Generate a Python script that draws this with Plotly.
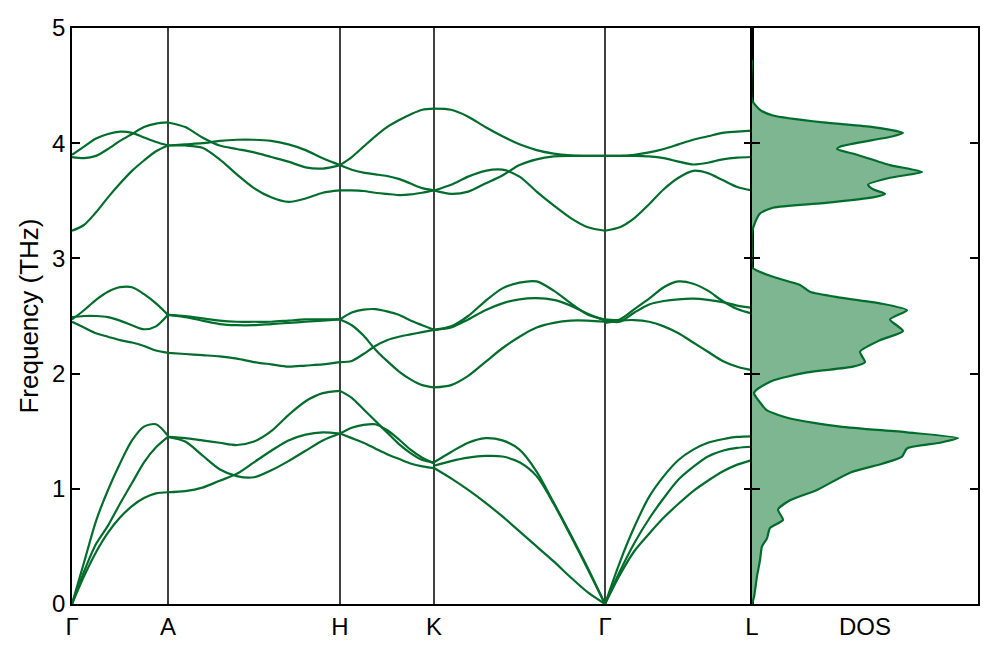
import numpy as np
import plotly.graph_objects as go

# ---------------- data ----------------
kpoint_labels = ["Γ", "A", "H", "K", "Γ", "L"]
kpoint_pos = [0.0, 0.96, 2.68, 3.62, 5.33, 6.80]   # path distance

# Segment Γ-A (9 k-samples)
seg_GA = [
    [3.90, 3.97, 4.04, 4.08, 4.10, 4.09, 4.05, 4.01, 3.98],
    [3.88, 3.87, 3.89, 3.95, 4.02, 4.08, 4.14, 4.17, 4.18],
    [3.24, 3.29, 3.40, 3.53, 3.65, 3.76, 3.85, 3.93, 3.98],
    [2.47, 2.55, 2.64, 2.71, 2.75, 2.75, 2.69, 2.61, 2.51],
    [2.49, 2.50, 2.50, 2.49, 2.46, 2.42, 2.385, 2.41, 2.51],
    [2.45, 2.40, 2.35, 2.32, 2.29, 2.27, 2.24, 2.20, 2.18],
    [0.00, 0.36, 0.72, 0.99, 1.22, 1.42, 1.54, 1.56, 1.46],
    [0.00, 0.28, 0.52, 0.68, 0.87, 1.05, 1.23, 1.36, 1.45],
    [0.00, 0.24, 0.45, 0.62, 0.75, 0.85, 0.92, 0.96, 0.97],
]

# Segment A-H (11 k-samples)
seg_AH = [
    [4.18, 4.14, 4.05, 3.98, 3.95, 3.92, 3.88, 3.84, 3.79, 3.78, 3.81],
    [3.98, 3.99, 4.00, 4.02, 4.03, 4.03, 4.02, 3.99, 3.94, 3.87, 3.81],
    [3.98, 3.98, 3.96, 3.86, 3.73, 3.61, 3.53, 3.49, 3.52, 3.57, 3.59],
    [2.51, 2.50, 2.48, 2.46, 2.45, 2.45, 2.45, 2.46, 2.47, 2.47, 2.47],
    [2.51, 2.49, 2.46, 2.43, 2.42, 2.42, 2.43, 2.44, 2.45, 2.46, 2.47],
    [2.18, 2.17, 2.16, 2.15, 2.13, 2.10, 2.08, 2.06, 2.07, 2.08, 2.10],
    [1.45, 1.44, 1.42, 1.40, 1.38, 1.41, 1.50, 1.64, 1.76, 1.83, 1.85],
    [1.45, 1.41, 1.29, 1.17, 1.11, 1.10, 1.16, 1.24, 1.33, 1.42, 1.48],
    [0.97, 0.98, 1.01, 1.07, 1.13, 1.23, 1.33, 1.42, 1.47, 1.49, 1.48],
]

# Segment H-K (9 k-samples)
seg_HK = [
    [3.81, 3.88, 3.97, 4.06, 4.14, 4.20, 4.25, 4.29, 4.30],
    [3.81, 3.77, 3.745, 3.73, 3.715, 3.69, 3.65, 3.61, 3.59],
    [3.59, 3.59, 3.585, 3.57, 3.56, 3.55, 3.555, 3.57, 3.59],
    [2.47, 2.53, 2.555, 2.56, 2.54, 2.51, 2.46, 2.42, 2.38],
    [2.47, 2.42, 2.33, 2.21, 2.11, 2.02, 1.95, 1.90, 1.88],
    [2.10, 2.11, 2.17, 2.24, 2.29, 2.32, 2.34, 2.36, 2.38],
    [1.85, 1.79, 1.69, 1.59, 1.49, 1.39, 1.31, 1.25, 1.23],
    [1.48, 1.53, 1.555, 1.56, 1.51, 1.43, 1.34, 1.27, 1.22],
    [1.48, 1.44, 1.40, 1.35, 1.30, 1.26, 1.22, 1.195, 1.18],
]

# Segment K-Γ (11 k-samples)
seg_KG = [
    [4.30, 4.29, 4.23, 4.14, 4.06, 3.99, 3.94, 3.91, 3.895, 3.89, 3.89],
    [3.59, 3.64, 3.71, 3.76, 3.77, 3.71, 3.58, 3.46, 3.35, 3.27, 3.24],
    [3.59, 3.56, 3.58, 3.65, 3.72, 3.81, 3.86, 3.885, 3.89, 3.89, 3.89],
    [2.38, 2.41, 2.50, 2.63, 2.74, 2.79, 2.80, 2.72, 2.61, 2.51, 2.47],
    [2.38, 2.40, 2.47, 2.55, 2.61, 2.645, 2.655, 2.64, 2.59, 2.52, 2.46],
    [1.88, 1.90, 1.98, 2.10, 2.22, 2.32, 2.40, 2.44, 2.46, 2.46, 2.45],
    [1.23, 1.32, 1.40, 1.44, 1.42, 1.34, 1.15, 0.88, 0.60, 0.31, 0.00],
    [1.20, 1.24, 1.27, 1.285, 1.28, 1.23, 1.11, 0.87, 0.59, 0.30, 0.00],
    [1.18, 1.09, 0.99, 0.88, 0.76, 0.63, 0.50, 0.37, 0.23, 0.10, 0.00],
]

# Segment Γ-L (11 k-samples)
seg_GL = [
    [3.89, 3.89, 3.90, 3.92, 3.95, 3.99, 4.03, 4.06, 4.09, 4.10, 4.11],
    [3.89, 3.89, 3.89, 3.885, 3.87, 3.84, 3.815, 3.83, 3.86, 3.875, 3.88],
    [3.24, 3.27, 3.35, 3.47, 3.60, 3.70, 3.76, 3.74, 3.68, 3.62, 3.59],
    [2.47, 2.47, 2.56, 2.65, 2.75, 2.80, 2.78, 2.72, 2.63, 2.56, 2.52],
    [2.46, 2.45, 2.53, 2.60, 2.63, 2.645, 2.65, 2.64, 2.62, 2.59, 2.57],
    [2.44, 2.46, 2.465, 2.45, 2.41, 2.35, 2.27, 2.19, 2.11, 2.06, 2.03],
    [0.00, 0.36, 0.67, 0.93, 1.11, 1.25, 1.34, 1.40, 1.43, 1.45, 1.455],
    [0.00, 0.28, 0.53, 0.74, 0.92, 1.08, 1.19, 1.28, 1.33, 1.355, 1.365],
    [0.00, 0.25, 0.46, 0.61, 0.75, 0.87, 0.98, 1.07, 1.15, 1.21, 1.25],
]

# Phonon density of states
dos_freq = [0.00, 0.06, 0.24, 0.38, 0.50, 0.57, 0.66, 0.73, 0.82, 0.90, 0.99,
            1.14, 1.22, 1.28, 1.35, 1.40, 1.44, 1.49, 1.54, 1.61, 1.68, 1.75,
            1.83, 1.87, 1.94, 2.01, 2.06, 2.10, 2.19, 2.29, 2.37, 2.47, 2.55,
            2.61, 2.66, 2.71, 2.77, 2.84, 2.92, 3.00, 3.22, 3.31, 3.39, 3.44,
            3.48, 3.53, 3.56, 3.60, 3.64, 3.70, 3.75, 3.81, 3.90, 3.95, 3.97,
            4.06, 4.09, 4.14, 4.18, 4.24, 4.29, 4.375, 4.72]
dos_vals = [0.00, 0.02, 0.05, 0.08, 0.10, 0.15, 0.18, 0.31, 0.26, 0.38, 0.65,
            0.98, 1.31, 1.50, 1.55, 1.88, 2.06, 1.55, 0.88, 0.38, 0.15, 0.08,
            0.02, 0.06, 0.21, 0.55, 1.01, 1.13, 1.08, 1.28, 1.51, 1.38, 1.55,
            1.28, 0.88, 0.58, 0.48, 0.21, 0.00, 0.00, 0.00, 0.03, 0.08, 0.21,
            0.71, 1.21, 1.33, 1.21, 1.16, 1.38, 1.70, 1.38, 1.05, 0.85, 0.88,
            1.41, 1.51, 1.21, 0.71, 0.21, 0.08, 0.00, 0.00]

# ---------------- styling ----------------
LINE_COLOR = "#006d2c"
FILL_COLOR = "#7fb692"
FONT = "Liberation Sans, Arial, sans-serif"

# page body has an 8px default margin; compensate so plot area lands at
# x 72..978, y 28..604 in the 996x657 window
W, H = 988, 649
ML, MR, MT, MB = 64, 18, 20, 53
split = (752 - 72) / (W - ML - MR)

fig = go.Figure()

segments = [seg_GA, seg_AH, seg_HK, seg_KG, seg_GL]
for i, seg in enumerate(segments):
    x0, x1 = kpoint_pos[i], kpoint_pos[i + 1]
    for band in seg:
        ks = np.linspace(x0, x1, len(band))
        fig.add_trace(go.Scatter(
            x=ks, y=band, mode="lines",
            line=dict(color=LINE_COLOR, width=2.2, shape="spline", smoothing=0.8),
            showlegend=False, hoverinfo="skip", xaxis="x", yaxis="y"))

fig.add_trace(go.Scatter(
    x=dos_vals, y=dos_freq, mode="lines", fill="tozerox", fillcolor=FILL_COLOR,
    line=dict(color=LINE_COLOR, width=2.2, shape="spline", smoothing=0.6),
    showlegend=False, hoverinfo="skip", xaxis="x2", yaxis="y2"))

for p in kpoint_pos[1:-1]:
    fig.add_shape(type="line", xref="x", yref="y domain", x0=p, x1=p, y0=0, y1=1,
                  line=dict(color="black", width=1.5), layer="below")

axis_common = dict(showline=True, linecolor="black", linewidth=1.8,
                   showgrid=False, zeroline=False)

fig.update_layout(
    width=W, height=H,
    margin=dict(l=ML, r=MR, t=MT, b=MB, autoexpand=False),
    paper_bgcolor="white", plot_bgcolor="white",
    font=dict(family=FONT, size=24, color="black"),
    xaxis=dict(domain=[0, split], range=[kpoint_pos[0], kpoint_pos[-1]],
               tickmode="array", tickvals=kpoint_pos, ticktext=kpoint_labels,
               ticks="", mirror=True, anchor="y", automargin=False,
               tickfont=dict(size=24, family=FONT), **axis_common),
    yaxis=dict(range=[0, 5], tickvals=[0, 1, 2, 3, 4, 5], ticks="inside",
               ticklen=8, tickwidth=1.5, tickcolor="black", mirror="allticks",
               anchor="x", automargin=False,
               title=dict(text="Frequency (THz)", standoff=6,
                          font=dict(size=26, family=FONT)),
               tickfont=dict(size=24, family=FONT), **axis_common),
    xaxis2=dict(domain=[split, 1], range=[0, 2.26], tickmode="array",
                tickvals=[1.13], ticktext=["DOS"], ticks="", mirror=True,
                anchor="y2", automargin=False,
                tickfont=dict(size=24, family=FONT), **axis_common),
    yaxis2=dict(range=[0, 5], tickvals=[0, 1, 2, 3, 4, 5], ticks="inside",
                ticklen=8, tickwidth=1.5, tickcolor="black", mirror="allticks",
                showticklabels=False, anchor="x2", automargin=False,
                **axis_common),
)

fig.write_html("out.html")
